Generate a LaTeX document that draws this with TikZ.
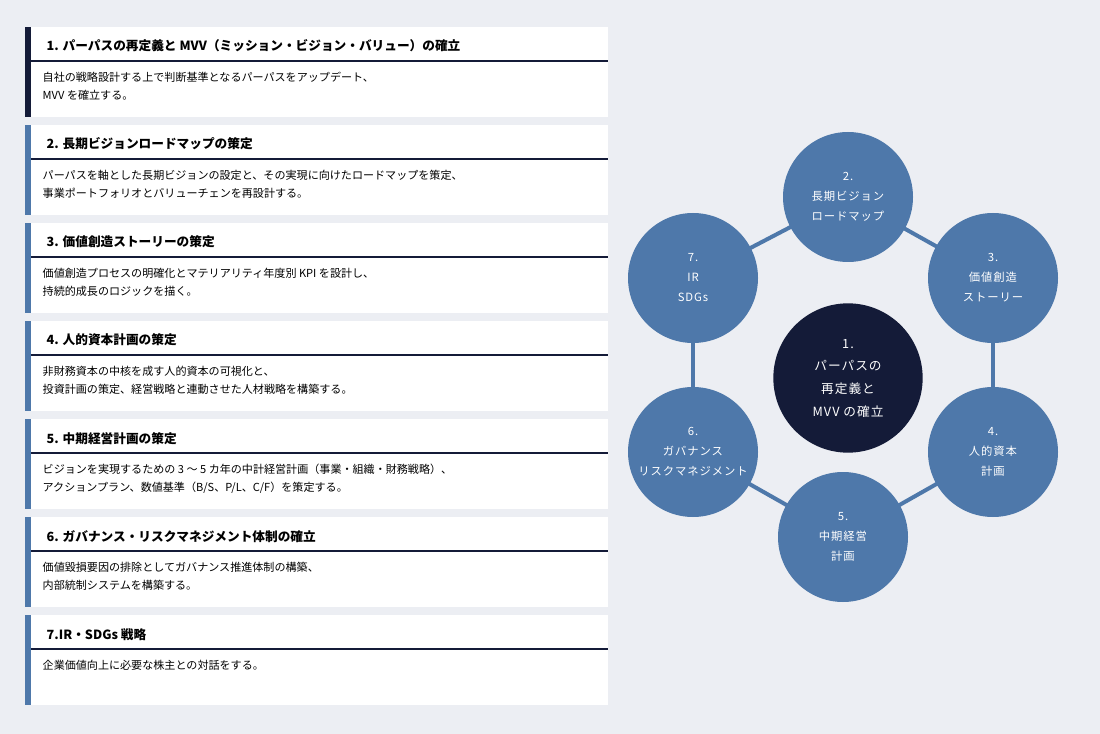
\documentclass[tikz,border=0pt]{standalone}
\usepackage{fontspec}
\setmainfont{Noto Sans CJK JP}
\newfontfamily\widefont[LetterSpace=8]{Noto Sans CJK JP}
\usetikzlibrary{backgrounds}
\definecolor{bgcol}{HTML}{ECEEF3}
\definecolor{bluecol}{HTML}{4E78AA}
\definecolor{navycol}{HTML}{141B38}
\tikzset{
  item/.style={circle, fill=bluecol, minimum size=97.5pt, inner sep=0pt, text=white, font=\widefont\fontsize{8.5}{15}\selectfont, align=center},
  core/.style={item, fill=navycol, minimum size=112pt, font=\widefont\fontsize{9.5}{17}\selectfont},
  link/.style={bluecol, line width=3pt},
  head/.style={anchor=base west, font=\bfseries\fontsize{9.5}{12}\selectfont},
  body/.style={anchor=north west, align=left, font=\fontsize{8.3}{13.5}\selectfont}
}
\begin{document}
\begin{tikzpicture}[x=0.75pt, y=-0.75pt]
% left boxes
\foreach \t/\b [count=\n] in {
  {1. パーパスの再定義と MVV（ミッション・ビジョン・バリュー）の確立}/{自社の戦略設計する上で判断基準となるパーパスをアップデート、\\MVV を確立する。},
  {2. 長期ビジョンロードマップの策定}/{パーパスを軸とした長期ビジョンの設定と、その実現に向けたロードマップを策定、\\事業ポートフォリオとバリューチェンを再設計する。},
  {3. 価値創造ストーリーの策定}/{価値創造プロセスの明確化とマテリアリティ年度別 KPI を設計し、\\持続的成長のロジックを描く。},
  {4. 人的資本計画の策定}/{非財務資本の中核を成す人的資本の可視化と、\\投資計画の策定、経営戦略と連動させた人材戦略を構築する。},
  {5. 中期経営計画の策定}/{ビジョンを実現するための 3 〜 5 カ年の中計経営計画（事業・組織・財務戦略）、\\アクションプラン、数値基準（B/S、P/L、C/F）を策定する。},
  {6. ガバナンス・リスクマネジメント体制の確立}/{価値毀損要因の排除としてガバナンス推進体制の構築、\\内部統制システムを構築する。},
  {7.IR・SDGs 戦略}/{企業価値向上に必要な株主との対話をする。}} {
  \pgfmathsetmacro\top{27+98*(\n-1)}
  \fill[white] (25,\top) rectangle (608,\top+90);
  \ifnum\n=1 \fill[navycol] (25,\top) rectangle (31,\top+90);
  \else \fill[bluecol] (25,\top) rectangle (31,\top+90); \fi
  \draw[navycol, line width=0.8pt] (31,\top+34) -- (608,\top+34);
  \node[head] (h\n) at (42,\top+24) {\t};
  \node[body] (b\n) at (38,\top+40) {\b};
}
% circles
\node[core] (c1) at (848,378) {1.\\パーパスの\\再定義と\\MVV の確立};
\node[item] (c2) at (848,197) {2.\\長期ビジョン\\ロードマップ};
\node[item] (c3) at (993,278) {3.\\価値創造\\ストーリー};
\node[item] (c4) at (993,452) {4.\\人的資本\\計画};
\node[item] (c5) at (843,537) {5.\\中期経営\\計画};
\node[item] (c6) at (693,452) {6.\\ガバナンス\\リスクマネジメント};
\node[item] (c7) at (693,278) {7.\\IR\\SDGs};
\begin{scope}[on background layer]
\fill[bgcol] (0,0) rectangle (1100,734);
\foreach \a/\b in {c2/c3,c3/c4,c4/c5,c5/c6,c6/c7,c7/c2}
  \draw[link] (\a.center) -- (\b.center);
\end{scope}
\end{tikzpicture}
\end{document}
